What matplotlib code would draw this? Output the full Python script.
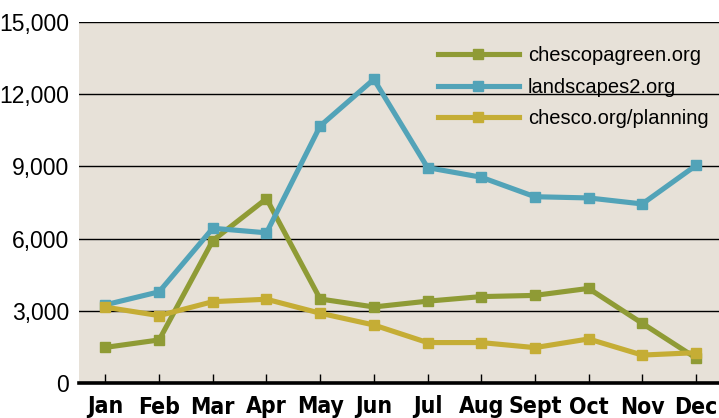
import matplotlib
matplotlib.use("Agg")
import matplotlib.pyplot as plt
from matplotlib import font_manager as fm
from matplotlib.ticker import FuncFormatter

months = ["Jan", "Feb", "Mar", "Apr", "May", "Jun", "Jul", "Aug", "Sept", "Oct", "Nov", "Dec"]
chescopagreen = [1480, 1790, 5920, 7660, 3490, 3160, 3400, 3590, 3640, 3930, 2480, 1040]
landscapes2 = [3250, 3790, 6430, 6240, 10680, 12620, 8950, 8550, 7740, 7690, 7440, 9040]
planning = [3150, 2800, 3380, 3480, 2900, 2410, 1680, 1680, 1470, 1830, 1160, 1260]

series_names = ["chescopagreen.org", "landscapes2.org", "chesco.org/planning"]
series_colors = ["#8f9b35", "#52a3b8", "#c5ad35"]
y_ticks = [0, 3000, 6000, 9000, 12000, 15000]

bg = "#e7e1d8"

# look for a condensed bold face for the month labels
cond_file = None
for f in fm.fontManager.ttflist:
    fn = f.fname.lower()
    if ("condensed" in fn or "narrow" in fn) and "bold" in fn and "oblique" not in fn and "italic" not in fn:
        cond_file = f.fname
        break

if cond_file:
    month_font = fm.FontProperties(fname=cond_file, size=16.5)
else:
    month_font = fm.FontProperties(family="Liberation Sans", weight="bold", size=14.5)

fig = plt.figure(figsize=(7.19, 4.18), dpi=100)
fig.patch.set_facecolor("white")
ax = fig.add_axes([79 / 719, 1 - 383 / 418, 640 / 719, 361 / 418])
ax.set_facecolor(bg)

x = list(range(len(months)))
for vals, name, col in zip([chescopagreen, landscapes2, planning], series_names, series_colors):
    ax.plot(x, vals, color=col, lw=3.7, marker="s", ms=6.5, label=name,
            solid_joinstyle="miter", zorder=3)

for t in y_ticks[1:]:
    ax.axhline(t, color="black", lw=1.0, zorder=1)

ax.set_ylim(0, 15000)
ax.set_xlim(-0.493, 11.43)
ax.set_yticks(y_ticks)
ax.yaxis.set_major_formatter(FuncFormatter(lambda v, p: f"{int(v):,}"))
ax.set_xticks(x)
ax.set_xticklabels(months)

for s in ["top", "right", "left"]:
    ax.spines[s].set_visible(False)
ax.spines["bottom"].set_linewidth(2.6)
ax.spines["bottom"].set_zorder(4)

ax.tick_params(axis="y", length=0, pad=7, labelsize=16.5)
ax.tick_params(axis="x", direction="in", length=6.5, width=1, pad=9)
for lab in ax.get_yticklabels():
    lab.set_family(["Liberation Sans", "DejaVu Sans"])
for lab in ax.get_xticklabels():
    lab.set_fontproperties(month_font)

leg = ax.legend(loc="upper left", bbox_to_anchor=(428 / 719, 1 - 36 / 418),
                bbox_transform=fig.transFigure, frameon=False, borderpad=0,
                handlelength=4.0, handletextpad=0.45, labelspacing=0.62,
                numpoints=1, prop={"family": "Liberation Sans", "size": 14.5})

fig.savefig("out.png", dpi=100)
